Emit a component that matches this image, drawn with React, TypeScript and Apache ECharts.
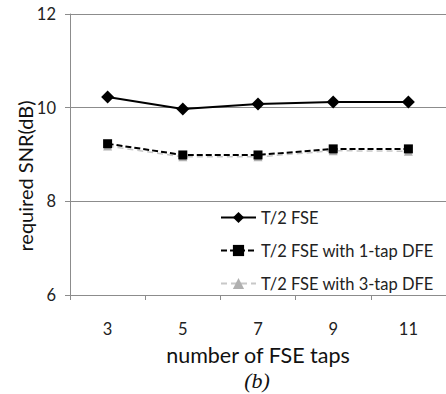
import React, { useEffect, useRef } from "react";
import * as echarts from "echarts";

const categories = ["3", "5", "7", "9", "11"];
const fse = [10.23, 9.97, 10.08, 10.12, 10.12];
const dfe1 = [9.23, 8.99, 8.99, 9.12, 9.12];
const dfe3 = [9.18, 8.95, 8.95, 9.08, 9.07];
const seriesNames = ["T/2 FSE", "T/2 FSE with 1-tap DFE", "T/2 FSE with 3-tap DFE"];
const yAxisTitle = "required SNR(dB)";
const xAxisTitle = "number of FSE taps";
const caption = "(b)";

const FONT = "Lato";

export default function App() {
  const ref = useRef<HTMLDivElement>(null);
  useEffect(() => {
    const chart = echarts.init(ref.current!, null, { renderer: "svg" });
    chart.setOption({
      animation: false,
      backgroundColor: "#ffffff",
      grid: { left: 70, right: -4, top: 14, bottom: 99 },
      legend: {
        orient: "vertical",
        left: 215,
        top: 204,
        itemWidth: 35,
        itemHeight: 14,
        itemGap: 16,
        textStyle: { fontFamily: FONT, fontSize: 16.5, color: "#222" },
        data: seriesNames,
      },
      xAxis: {
        type: "category",
        data: categories,
        boundaryGap: true,
        axisLine: { show: true, lineStyle: { color: "#8c8c8c" } },
        axisTick: { show: true, length: 5, lineStyle: { color: "#8c8c8c" } },
        axisLabel: { fontFamily: FONT, fontSize: 16.5, color: "#222", margin: 25 },
        name: xAxisTitle,
        nameLocation: "middle",
        nameGap: 49,
        nameTextStyle: { fontFamily: FONT, fontSize: 21.5, color: "#111" },
      },
      yAxis: {
        type: "value",
        min: 6,
        max: 12,
        interval: 2,
        axisLine: { show: true, lineStyle: { color: "#8c8c8c" } },
        axisTick: { show: true, inside: false, length: 5, lineStyle: { color: "#8c8c8c" } },
        splitLine: { show: true, lineStyle: { color: "#8c8c8c" } },
        axisLabel: { fontFamily: FONT, fontSize: 16.5, color: "#222", margin: 14 },
      },
      graphic: [
        {
          type: "text",
          x: 25,
          y: 176,
          rotation: Math.PI / 2,
          style: {
            text: yAxisTitle,
            font: `20px ${FONT}`,
            fill: "#111",
            align: "center",
            verticalAlign: "middle",
          },
        },
        {
          type: "text",
          x: 257,
          y: 380,
          style: {
            text: caption,
            font: "italic 22px 'Liberation Serif'",
            fill: "#111",
            align: "center",
            verticalAlign: "middle",
          },
        },
      ],
      series: [
        {
          name: seriesNames[2],
          type: "line",
          data: dfe3,
          symbol: "triangle",
          symbolSize: 9,
          itemStyle: { color: "#b0b0b0" },
          lineStyle: { color: "#c8c8c8", width: 1.5, type: [6, 4] },
          z: 1,
        },
        {
          name: seriesNames[1],
          type: "line",
          data: dfe1,
          symbol: "rect",
          symbolSize: 9,
          itemStyle: { color: "#000" },
          lineStyle: { color: "#000", width: 2, type: [6, 3] },
          z: 2,
        },
        {
          name: seriesNames[0],
          type: "line",
          data: fse,
          symbol: "diamond",
          symbolSize: 13,
          itemStyle: { color: "#000" },
          lineStyle: { color: "#000", width: 2 },
          z: 3,
        },
      ],
    });
    return () => chart.dispose();
  }, []);
  return <div ref={ref} style={{ width: 446, height: 394, position: "absolute", left: 0, top: 0 }} />;
}
